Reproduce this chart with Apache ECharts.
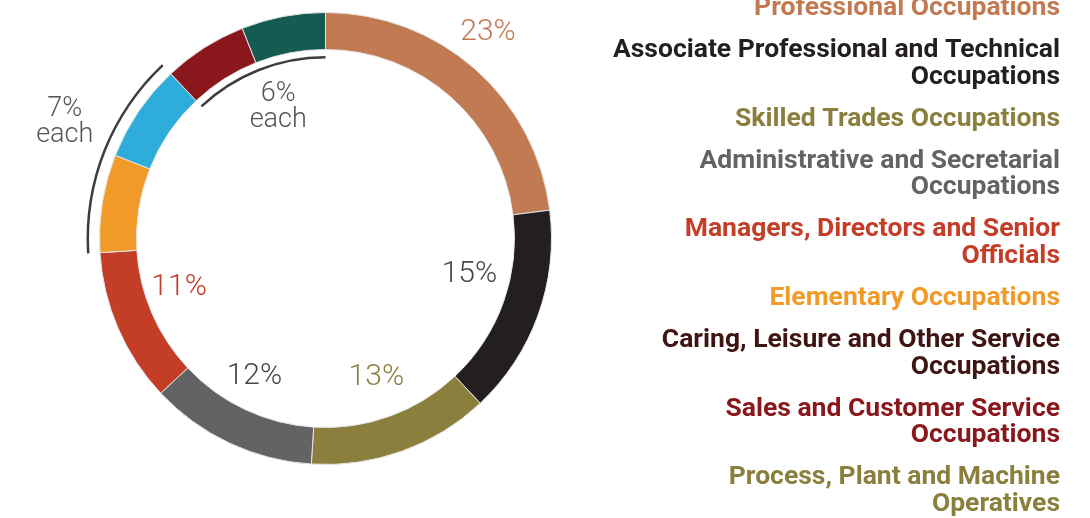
<!DOCTYPE html>
<html>
<head>
<meta charset="utf-8">
<script src="https://cdn.jsdelivr.net/npm/echarts@6.0.0/dist/echarts.min.js"></script>
<style>
  html, body { margin: 0; padding: 0; background: #fff; }
  #chart { width: 1090px; height: 518px; }
</style>
</head>
<body>
<div id="chart"></div>
<script>
// occupation groups, clockwise from 12 o'clock
const categories = [
  'Professional Occupations',
  'Associate Professional and Technical\nOccupations',
  'Skilled Trades Occupations',
  'Administrative and Secretarial\nOccupations',
  'Managers, Directors and Senior\nOfficials',
  'Elementary Occupations',
  'Caring, Leisure and Other Service\nOccupations',
  'Sales and Customer Service\nOccupations',
  'Process, Plant and Machine\nOperatives'
]
const shares = [23, 15, 13, 12, 11, 7, 7, 6, 6]

// colours
const sliceColors = ['#C27A52', '#231F20', '#8B7F3D', '#636365', '#C33D27', '#F29A28', '#2FADDA', '#8A171B', '#145B51']
const legendColors = ['#C27A52', '#231F20', '#8B7F3D', '#636365', '#C33D27', '#F29A28', '#3E1512', '#8A171B', '#8B7F3D']
const pctColors = ['#C27A52', '#47474a', '#8B7F3D', '#47474a', '#C33D27']

// hand placement of the percentage labels, like the original
const pctNudge = [[-14, -6], [0, -16], [-1, -5], [-6, 0], [-6, -12]]

const CENTER = [325.5, 238.5]
const PCT_FONT = 'Roboto, "Noto Sans", sans-serif'
const LEGEND_FONT = 'Roboto, "Noto Sans", sans-serif'
const LEGEND_LINE = 26.8
const LEGEND_GAP = 15.1

// the small slices are labelled in pairs
const sum = (arr) => arr.reduce((a, b) => a + b, 0)
const groups = [sum(shares.slice(0, 5)), shares[5] + shares[6], shares[7] + shares[8]]
const groupText = ['', shares[5] + '%\neach', shares[7] + '%\neach']

const hidden = 'rgba(0,0,0,0)'

const mainRing = {
  type: 'pie',
  center: CENTER,
  radius: [189, 226],
  silent: true,
  label: { show: false },
  labelLine: { show: false },
  data: shares.map((v, i) => ({
    name: categories[i],
    value: v,
    itemStyle: { color: sliceColors[i], borderColor: '#e6e6e6', borderWidth: 1 }
  }))
}

const pctLabel = (i, show) => ({
  show: show,
  position: 'inside',
  formatter: shares[i] + '%',
  color: pctColors[i] || '#47474a',
  fontFamily: PCT_FONT,
  fontWeight: 300,
  fontSize: 30
})

// transparent ring that only carries percentage labels
const pctRing = (radius, isShown) => ({
  type: 'pie',
  center: CENTER,
  radius: radius,
  silent: true,
  avoidLabelOverlap: false,
  labelLine: { show: false },
  labelLayout: (p) => {
    const n = pctNudge[p.dataIndex] || [0, 0]
    return { dx: n[0], dy: n[1] }
  },
  z: 5,
  data: shares.map((v, i) => ({ value: v, itemStyle: { color: hidden }, label: pctLabel(i, isShown(i)) }))
})

const bracket = (radius, showIdx) => ({
  type: 'pie',
  center: CENTER,
  radius: radius,
  silent: true,
  label: { show: false },
  labelLine: { show: false },
  data: groups.map((v, i) => ({ value: v, itemStyle: { color: i === showIdx ? '#3d3d3d' : hidden } }))
})

const groupLabel = (radius, showIdx, dx, dy) => ({
  type: 'pie',
  center: CENTER,
  radius: radius,
  silent: true,
  avoidLabelOverlap: false,
  labelLine: { show: false },
  labelLayout: { dx: dx, dy: dy },
  data: groups.map((v, i) => ({
    value: v,
    itemStyle: { color: hidden },
    label: {
      show: i === showIdx,
      position: 'inside',
      formatter: groupText[i],
      color: '#555557',
      fontFamily: PCT_FONT,
      fontWeight: 300,
      fontSize: 27,
      lineHeight: 26
    }
  }))
})

// legend: right-aligned coloured names
const legendGraphics = []
let legendY = -5
categories.forEach((name, i) => {
  legendGraphics.push({
    type: 'text',
    x: 1060,
    y: legendY,
    silent: true,
    style: {
      text: name,
      fill: legendColors[i],
      font: 'bold 26.5px ' + LEGEND_FONT,
      align: 'right',
      verticalAlign: 'top',
      lineHeight: LEGEND_LINE
    }
  })
  legendY += name.split('\n').length * LEGEND_LINE + LEGEND_GAP
})

const chart = echarts.init(document.getElementById('chart'), null, { renderer: 'canvas' })
chart.setOption({
  animation: false,
  backgroundColor: '#fff',
  graphic: legendGraphics,
  series: [
    mainRing,
    pctRing([250, 278], (i) => i === 0),
    pctRing([100, 200], (i) => i >= 1 && i <= 4),
    bracket([236.5, 239.0], 1),
    bracket([180, 182.5], 2),
    groupLabel([270, 300], 1, 7, -10),
    groupLabel([120, 158], 2, 5, 1)
  ]
})
</script>
</body>
</html>
